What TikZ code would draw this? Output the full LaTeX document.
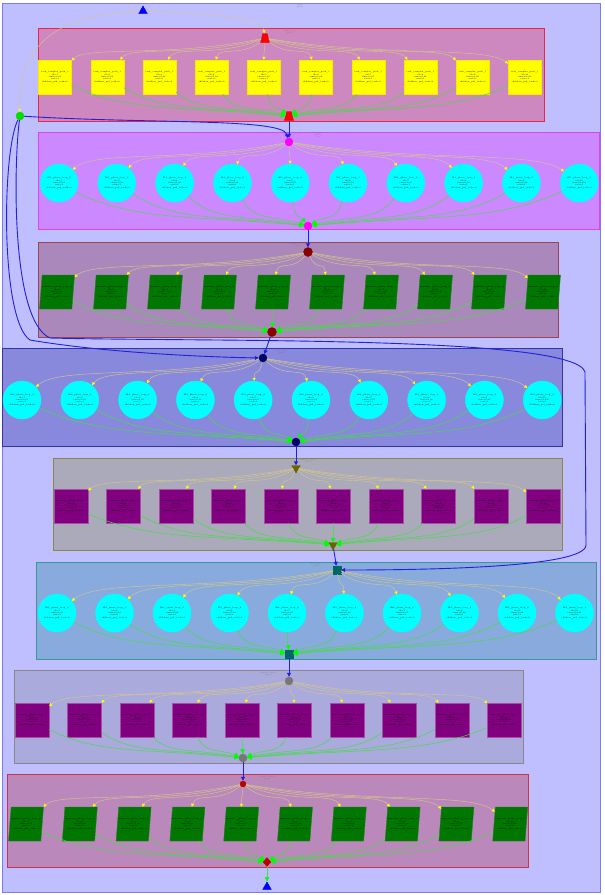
\documentclass[tikz,border=0pt]{standalone}
\usetikzlibrary{shapes.geometric,arrows.meta,calc}

\definecolor{outerfill}{HTML}{BFBFFF}
\definecolor{outerline}{HTML}{7B7BEE}
\definecolor{pane1}{HTML}{CC88BF}
\definecolor{ring1}{HTML}{EE2244}
\definecolor{pane2}{HTML}{CC88FF}
\definecolor{ring2}{HTML}{DD44EE}
\definecolor{pane3}{HTML}{AA88BB}
\definecolor{ring3}{HTML}{994455}
\definecolor{pane4}{HTML}{8888DD}
\definecolor{ring4}{HTML}{3333AA}
\definecolor{pane5}{HTML}{AAAABB}
\definecolor{ring5}{HTML}{888844}
\definecolor{pane6}{HTML}{88AADD}
\definecolor{ring6}{HTML}{339999}
\definecolor{pane7}{HTML}{AAAADD}
\definecolor{ring7}{HTML}{888888}
\definecolor{pane8}{HTML}{BB88BB}
\definecolor{ring8}{HTML}{CC3344}
\definecolor{aqua}{HTML}{00FFFF}
\definecolor{lemon}{HTML}{FFFF00}
\definecolor{fuchsia}{HTML}{FF00FF}
\definecolor{lime}{HTML}{00FF00}
\definecolor{leafgreen}{HTML}{007700}
\definecolor{plum}{HTML}{800080}
\definecolor{darkred}{HTML}{880000}
\definecolor{navy}{HTML}{000066}
\definecolor{darkolive}{HTML}{666600}
\definecolor{darkteal}{HTML}{006666}
\definecolor{knobgray}{HTML}{777777}
\definecolor{knobred}{HTML}{BB0000}
\definecolor{knobgreen}{HTML}{00DD00}
\definecolor{feedline}{HTML}{D2C68C}
\definecolor{joinline}{HTML}{44DD44}
\definecolor{flowblue}{HTML}{2020DD}

\tikzset{
    tinytext/.style={font=\fontsize{2}{2.4}\selectfont, align=center, text=black},
    caption/.style={font=\fontsize{1.7}{2}\selectfont, align=center, text=black!55},
    yellowbox/.style={rectangle, draw=lemon!80!orange, fill=lemon, minimum width=33pt, minimum height=34pt, inner sep=0pt, tinytext},
    cyanball/.style={circle, draw=aqua, fill=aqua, minimum size=38pt, inner sep=0pt, tinytext},
    greenpara/.style={trapezium, trapezium left angle=77, trapezium right angle=103, trapezium stretches, draw=leafgreen!70!gray, fill=leafgreen, minimum width=35pt, minimum height=34pt, inner sep=0pt, tinytext},
    purplebox/.style={rectangle, draw=plum!70!white, fill=plum, minimum width=34pt, minimum height=34pt, inner sep=0pt, tinytext},
    knob/.style={circle, draw=#1, fill=#1, minimum size=8pt, inner sep=0pt},
    redcap/.style={trapezium, trapezium stretches, draw=red!80!black, fill=red, minimum width=9pt, minimum height=9pt, inner sep=1pt},
    droptri/.style={regular polygon, regular polygon sides=3, shape border rotate=180, draw=darkolive, fill=darkolive, minimum size=10pt, inner sep=0pt},
    tealsq/.style={rectangle, draw=darkteal, fill=darkteal, minimum size=8pt, inner sep=0pt},
    bluetri/.style={regular polygon, regular polygon sides=3, draw=blue, fill=blue, minimum size=10pt, inner sep=0pt},
    reddiam/.style={diamond, draw=knobred, fill=knobred, minimum width=8pt, minimum height=9pt, inner sep=0pt},
    fanout/.style={draw=feedline, line width=0.45pt, -{Triangle[length=3pt,width=3pt,color=lemon]}},
    fanin/.style={draw=joinline, line width=0.5pt, -{Triangle[length=4.5pt,width=4.5pt,color=lime]}},
    flowline/.style={draw=flowblue, line width=0.9pt, -{Triangle[length=4pt,width=4pt]}},
}

\begin{document}
\begin{tikzpicture}[x=1pt,y=-1pt]
    \useasboundingbox (0,0) rectangle (605,895);
    \draw[outerline, fill=outerfill, line width=0.9pt] (2,3) rectangle (600,892);
    \foreach \k/\xa/\ya/\xb/\yb in {1/38/28/544/121, 2/38/132/599/229, 3/38/242/558/337, 4/2/348/562/446, 5/53/458/562/550, 6/36/562/596/659, 7/14/670/523/763, 8/7/774/528/867}
        \draw[draw=ring\k, fill=pane\k, line width=0.8pt] (\xa,\ya) rectangle (\xb,\yb);

    \node[caption] (mainlbl) at (300,6) {main\\pid=0};
    \node[caption] (lbl1) at (290,32) {task\_group\\pid=1};
    \node[caption] (lbl2) at (318,135) {fft1\_phase\\pid=2\\loop};
    \node[caption] (lbl3) at (298,245) {sequence\_phase\\pid=3};
    \node[caption] (lbl4) at (282,352) {fft2\_phase\\pid=4};
    \node[caption] (lbl5) at (308,461) {sequence\_phase\\pid=5};
    \node[caption] (lbl6) at (316,565) {fft3\_phase\\pid=6};
    \node[caption] (lbl7) at (268,674) {sequence\_phase\\pid=7};
    \node[caption] (lbl8) at (267,778) {sequence\_phase\\pid=8};

    \node[bluetri] (start) at (143,11) {};
    \node[bluetri] (stop) at (267,887) {};
    \node[knob=knobgreen] (hub) at (20,116) {};

    \node[redcap] (t1) at (265,38) {};
    \node[redcap] (b1) at (289,116) {};
    \node[knob=fuchsia] (t2) at (289,142) {};
    \node[knob=fuchsia] (b2) at (308,226) {};
    \node[knob=darkred, minimum size=9pt] (t3) at (308,252) {};
    \node[knob=darkred, minimum size=9pt] (b3) at (272,332) {};
    \node[knob=navy] (t4) at (263,358) {};
    \node[knob=navy] (b4) at (296,442) {};
    \node[droptri] (t5) at (296,468) {};
    \node[droptri] (b5) at (333,545) {};
    \node[tealsq] (t6) at (337,570) {};
    \node[tealsq] (b6) at (289,654) {};
    \node[knob=knobgray] (t7) at (289,681) {};
    \node[knob=knobgray] (b7) at (243,758) {};
    \node[knob=knobred, minimum size=6pt] (t8) at (243,784) {};
    \node[reddiam] (b8) at (267,862) {};

    \foreach \k/\first/\gap/\row/\kind/\txt in {
        1/55/52.2/77/yellowbox/task\_complex\_path,
        2/59/57.8/183/cyanball/fft1\_phase\_loop,
        3/57/54/292/greenpara/sequence\_phase\_loop,
        4/22/57.8/400/cyanball/fft2\_phase\_loop,
        5/71/52.5/506/purplebox/sequence\_phase\_loop,
        6/57/57.5/613/cyanball/fft3\_phase\_loop,
        7/32/52.5/720/purplebox/sequence\_phase\_loop,
        8/26/53.8/824/greenpara/sequence\_phase\_loop}
        \foreach \i in {1,...,10}
            \node[\kind] (c\k-\i) at ({\first+(\i-1)*\gap},\row) {\txt\_\k\\id=\i\\time=0.0\i\\cost=1\\children\_pid\_task=0};

    \foreach \k in {1,...,8}
        \foreach \i in {1,...,10} {
            \draw[fanout] let \p1=(t\k), \p2=(c\k-\i) in
                (t\k) .. controls ({\x1+0.45*(\x2-\x1)},{\y1+0.5*(\y2-\y1)}) and ({\x2-0.15*(\x2-\x1)},{\y2+0.8*(\y1-\y2)}) .. (c\k-\i);
            \draw[fanin] let \p1=(c\k-\i), \p2=(b\k) in
                (c\k-\i) .. controls ({\x1+0.3*(\x2-\x1)},{\y1+0.9*(\y2-\y1)}) and ({\x2-0.45*(\x2-\x1)},{\y2+0.25*(\y1-\y2)}) .. (b\k);
        }

    \draw[fanout] (start) .. controls (40,14) and (18,60) .. (hub);
    \draw[fanout] (start) .. controls (220,14) and (262,18) .. (t1);

    \draw[flowline] (hub) .. controls (150,124) and (282,118) .. (t2);
    \draw[flowline] (hub) .. controls (2,150) and (0,320) .. (30,340) .. controls (100,352) and (200,357) .. (t4);
    \draw[flowline] (hub) .. controls (14,160) and (10,320) .. (50,338) .. controls (200,342) and (575,335) .. (585,372) -- (586,545) .. controls (586,568) and (420,570) .. (t6);

    \draw[flowline] (b1) -- (t2);
    \draw[flowline] (b2) -- (t3);
    \draw[flowline] (b3) -- (t4);
    \draw[flowline] (b4) -- (t5);
    \draw[flowline] (b5) -- (t6);
    \draw[flowline] (b6) -- (t7);
    \draw[flowline] (b7) -- (t8);
    \draw[fanin] (b8) -- (stop);
\end{tikzpicture}
\end{document}
